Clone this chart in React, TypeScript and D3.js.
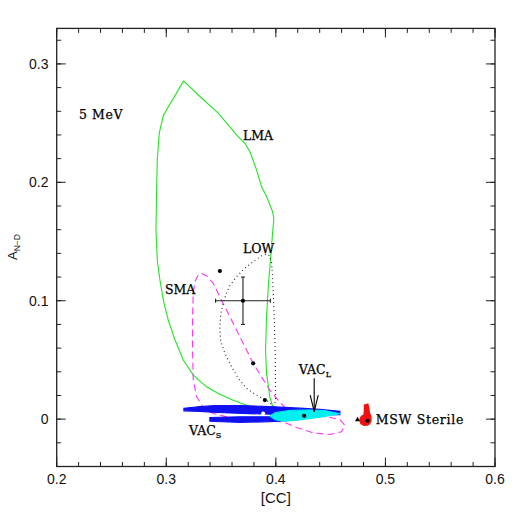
import React from "react";
import * as d3 from "d3";

// ---- data (x = [CC], y = A_N-D) ----
const lmaX = [0.3158,0.3307,0.3474,0.3565,0.3641,0.3717,0.3763,0.3824,0.3869,0.3915,0.397,0.3982,0.397,0.3951,0.3933,0.3915,0.3906,0.3915,0.3945,0.3976,0.3824,0.3733,0.3611,0.3474,0.3368,0.3246,0.3155,0.308,0.3018,0.2973,0.2942,0.2918,0.2906,0.2912,0.2918,0.2936,0.2973,0.3158];
const lmaY = [0.2857,0.2725,0.2584,0.2485,0.24,0.233,0.226,0.2105,0.1964,0.188,0.1753,0.1696,0.157,0.1344,0.1147,0.0865,0.0583,0.0386,0.0189,0.009,0.008,0.0118,0.016,0.0217,0.0273,0.0372,0.0499,0.0668,0.0837,0.1006,0.1175,0.134,0.1598,0.196,0.219,0.2415,0.2564,0.2857];

const smaX = [0.4097,0.4219,0.4462,0.4584,0.4629,0.4599,0.4492,0.434,0.4188,0.4067,0.3854,0.3611,0.3429,0.3337,0.3277,0.3246,0.324,0.324,0.3246,0.3261,0.3292,0.3322,0.3368,0.3429,0.3474,0.355,0.3641,0.3717,0.3793,0.3869,0.3945,0.4021,0.4097];
const smaY = [0.0082,0.0034,0.002,-0.0003,-0.0051,-0.0107,-0.013,-0.0116,-0.007,-0.0023,-0.0008,0.0006,0.0048,0.0099,0.0189,0.033,0.0583,0.0865,0.1062,0.1161,0.1217,0.1231,0.1209,0.1147,0.1062,0.0921,0.0752,0.0612,0.0471,0.0358,0.0245,0.0161,0.0082];

const lowX = [0.3982,0.3915,0.3824,0.3733,0.3657,0.3596,0.3535,0.3495,0.3489,0.3498,0.3526,0.3574,0.3641,0.3717,0.3793,0.3869,0.3915,0.3945,0.3961,0.397,0.3979,0.3988,0.3994,0.3997,0.3997,0.3982];
const lowY = [0.0104,0.0161,0.0203,0.0259,0.0344,0.0442,0.0555,0.0668,0.0781,0.0893,0.1006,0.1119,0.1203,0.1274,0.133,0.1378,0.1395,0.1378,0.1316,0.1203,0.1006,0.0781,0.0555,0.033,0.0161,0.0104];

const vacSUpperX = [0.3161,0.3307,0.3444,0.3672,0.3945,0.4219,0.4401,0.4584,0.4584,0.4401,0.4219,0.3945,0.3763,0.3581,0.3417,0.3307,0.3161];
const vacSUpperY = [0.0092,0.0105,0.0115,0.0115,0.0106,0.0093,0.0082,0.0066,0.0038,0.0036,0.0038,0.0043,0.0046,0.0052,0.0058,0.0066,0.0070];
const vacSLowerX = [0.3398,0.3672,0.3945,0.4128,0.4128,0.3945,0.3672,0.3398];
const vacSLowerY = [0.0014,0.0020,0.0020,0.0016,-0.0012,-0.0022,-0.0027,-0.0018];

const vacLX = [0.3991,0.4128,0.431,0.4447,0.4584,0.4447,0.431,0.4173,0.4054,0.3991,0.3945];
const vacLY = [0.0055,0.0074,0.0078,0.0072,0.0046,0.0022,0.0004,-0.0012,-0.0017,-0.0004,0.0025];

const sterileX = [0.4809,0.4839,0.4848,0.4853,0.4866,0.4868,0.4855,0.4835,0.4805,0.4778,0.4768,0.4772,0.4786,0.4806,0.4809];
const sterileY = [0.0118,0.0127,0.0093,0.0051,0.0025,-0.0012,-0.0038,-0.005,-0.0052,-0.0038,-0.0012,0.0012,0.0026,0.0036,0.0076];

const dotX = [0.3489,0.3793,0.39,0.4258,0.4836];
const dotY = [0.1251,0.0471,0.0161,0.0028,-0.0014];
const whiteDotX = [0.3884];
const whiteDotY = [0.0048];
const triX = [0.4745];
const triY = [0];

const measX = 0.37, measY = 0.1, measErrX = 0.025, measErrY = 0.02;

const xTickValues = [0.2, 0.3, 0.4, 0.5, 0.6];
const xTickLabels = ["0.2", "0.3", "0.4", "0.5", "0.6"];
const yTickValues = [0, 0.1, 0.2, 0.3];
const yTickLabels = ["0", "0.1", "0.2", "0.3"];

const W = 523, H = 523;
const left = 56.7, right = 495, top = 28.4, bottom = 466.5;

export default function App() {
  const x = d3.scaleLinear().domain([0.2, 0.6]).range([left, right]);
  const y = d3.scaleLinear().domain([-0.04, 0.33]).range([bottom, top]);

  const line = (xs: number[], ys: number[], closed = false) => {
    const pts: [number, number][] = xs.map((v, i) => [x(v), y(ys[i])]);
    const g = d3.line().curve(closed ? d3.curveLinearClosed : d3.curveLinear);
    return g(pts) || "";
  };

  const xMinor = d3.range(0.2, 0.6001, 0.02);
  const yMinor = d3.range(-0.04, 0.3301, 0.02);

  const serif = "'DejaVu Serif', serif";
  const sans = "'Liberation Sans', Arial, sans-serif";

  const arrowX = x(0.435);
  const arrowTop = y(0.0346);
  const arrowBot = y(0.0063);
  const headY = y(0.0203);

  return (
    <svg width={W} height={H} style={{ position: "absolute", left: 0, top: 0, background: "#fff" }}>
      <rect x={0} y={0} width={W} height={H} fill="#fff" />
      {/* contours */}
      <path d={line(lmaX, lmaY)} fill="none" stroke="#22e622" strokeWidth={1.1} />
      <path d={line(smaX, smaY, true)} fill="none" stroke="#ff33ff" strokeWidth={1.1} strokeDasharray="7,4" />
      <path d={line(lowX, lowY)} fill="none" stroke="#222" strokeWidth={1.1} strokeDasharray="1,3" />

      {/* scatter regions */}
      <path d={line(vacSUpperX, vacSUpperY, true)} fill="#1010f0" stroke="#1010f0" strokeWidth={1.2} />
      <path d={line(vacSLowerX, vacSLowerY, true)} fill="#1010f0" stroke="#1010f0" strokeWidth={1.2} />
      <path d={line(vacLX, vacLY, true)} fill="#00f0f0" stroke="#00f0f0" strokeWidth={1} />
      <path d={line(sterileX, sterileY, true)} fill="#f01010" stroke="#f01010" strokeWidth={1.5} />

      {/* points */}
      {dotX.map((v, i) => (
        <circle key={"d" + i} cx={x(v)} cy={y(dotY[i])} r={2.1} fill="#000" />
      ))}
      {whiteDotX.map((v, i) => (
        <circle key={"w" + i} cx={x(v)} cy={y(whiteDotY[i])} r={2} fill="#fff" />
      ))}
      {triX.map((v, i) => (
        <path key={"t" + i} d={`M${x(v) - 2.5},${y(triY[i]) + 2}L${x(v) + 2.5},${y(triY[i]) + 2}L${x(v)},${y(triY[i]) - 2.5}Z`} fill="#000" />
      ))}

      {/* measurement with error bars */}
      <g stroke="#222" strokeWidth={1.1}>
        <line x1={x(measX - measErrX)} x2={x(measX + measErrX)} y1={y(measY)} y2={y(measY)} />
        <line x1={x(measX)} x2={x(measX)} y1={y(measY - measErrY)} y2={y(measY + measErrY)} />
        <line x1={x(measX - measErrX)} x2={x(measX - measErrX)} y1={y(measY) - 2} y2={y(measY) + 2} />
        <line x1={x(measX + measErrX)} x2={x(measX + measErrX)} y1={y(measY) - 2} y2={y(measY) + 2} />
        <line x1={x(measX) - 2} x2={x(measX) + 2} y1={y(measY - measErrY)} y2={y(measY - measErrY)} />
        <line x1={x(measX) - 2} x2={x(measX) + 2} y1={y(measY + measErrY)} y2={y(measY + measErrY)} />
      </g>
      <circle cx={x(measX)} cy={y(measY)} r={2.1} fill="#000" />

      {/* VAC_L arrow */}
      <g stroke="#000" strokeWidth={1.1} fill="none">
        <line x1={arrowX} x2={arrowX} y1={arrowTop} y2={arrowBot} />
        <path d={`M${arrowX - 4},${headY}L${arrowX},${arrowBot}L${arrowX + 4},${headY}`} />
      </g>

      {/* labels */}
      <g fontFamily={serif} fontSize={12.5} fill="#000" stroke="#000" strokeWidth={0.25}>
        <text x={x(0.2203)} y={y(0.2535)} letterSpacing={0.6}>5  MeV</text>
        <text x={x(0.37)} y={y(0.2358)}>LMA</text>
        <text x={x(0.37)} y={y(0.1403)}>LOW</text>
        <text x={x(0.2988)} y={y(0.1056)}>SMA</text>
        <text x={x(0.421)} y={y(0.038)}>VAC<tspan fontSize={8} dy={3}>L</tspan></text>
        <text x={x(0.3207)} y={y(-0.0135)}>VAC<tspan fontSize={8} dy={3}>S</tspan></text>
        <text x={x(0.4912)} y={y(-0.0042)} letterSpacing={0.7}>MSW Sterile</text>
      </g>

      {/* frame */}
      <rect x={left} y={top} width={right - left} height={bottom - top} fill="none" stroke="#222" strokeWidth={1.3} />

      {/* ticks */}
      <g stroke="#222" strokeWidth={1}>
        {xMinor.map((v, i) => (
          <g key={"xm" + i}>
            <line x1={x(v)} x2={x(v)} y1={bottom} y2={bottom - 4.5} />
            <line x1={x(v)} x2={x(v)} y1={top} y2={top + 4.5} />
          </g>
        ))}
        {xTickValues.map((v, i) => (
          <g key={"xM" + i}>
            <line x1={x(v)} x2={x(v)} y1={bottom} y2={bottom - 9} />
            <line x1={x(v)} x2={x(v)} y1={top} y2={top + 9} />
          </g>
        ))}
        {yMinor.map((v, i) => (
          <g key={"ym" + i}>
            <line x1={left} x2={left + 4.5} y1={y(v)} y2={y(v)} />
            <line x1={right} x2={right - 4.5} y1={y(v)} y2={y(v)} />
          </g>
        ))}
        {yTickValues.map((v, i) => (
          <g key={"yM" + i}>
            <line x1={left} x2={left + 9} y1={y(v)} y2={y(v)} />
            <line x1={right} x2={right - 9} y1={y(v)} y2={y(v)} />
          </g>
        ))}
      </g>

      {/* tick labels */}
      <g fontFamily={sans} fontSize={14} fill="#111">
        {xTickValues.map((v, i) => (
          <text key={"xl" + i} x={x(v)} y={484} textAnchor="middle">{xTickLabels[i]}</text>
        ))}
        {yTickValues.map((v, i) => (
          <text key={"yl" + i} x={48.5} y={y(v) + 5} textAnchor="end">{yTickLabels[i]}</text>
        ))}
        <text x={x(0.4)} y={503} textAnchor="middle" fontSize={15}>[CC]</text>
        <text transform="translate(17,260) rotate(-90)" fontSize={13}>
          A<tspan fontSize={8.5} dy={3}>N−D</tspan>
        </text>
      </g>
    </svg>
  );
}
